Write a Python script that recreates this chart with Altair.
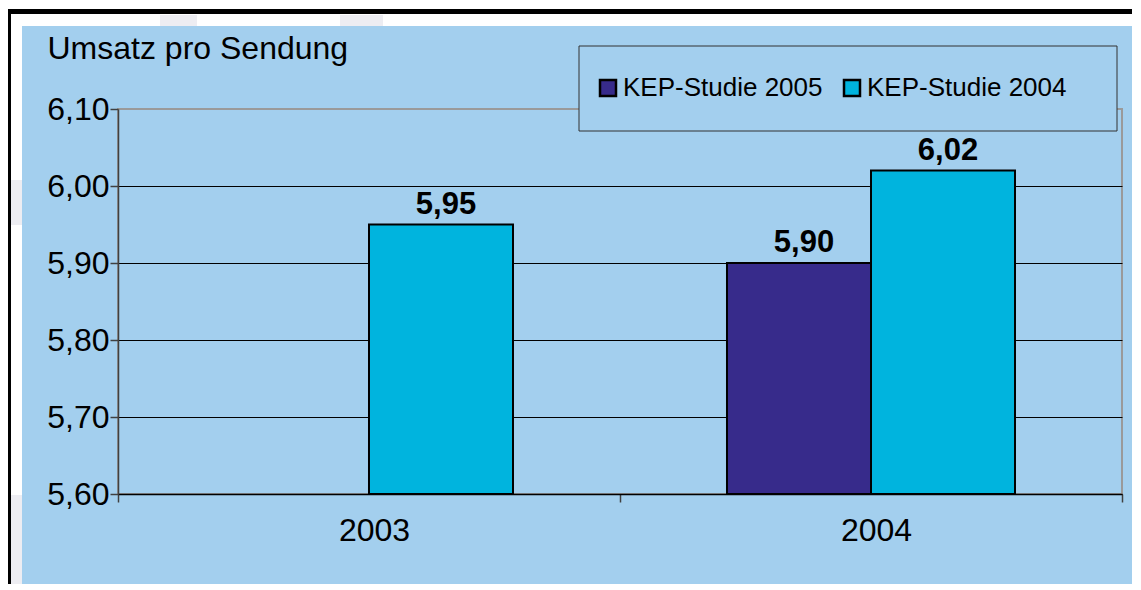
import altair as alt
import pandas as pd

# ---- data ----
years = ["2003", "2004"]
series_names = ["KEP-Studie 2005", "KEP-Studie 2004"]
kep_2005 = [None, 5.90]
kep_2004 = [5.95, 6.02]
series_colors = ["#372B8B", "#00B4DE"]
y_ticks = [5.6, 5.7, 5.8, 5.9, 6.0, 6.1]
y_title = "Umsatz pro Sendung"

rows = []
for name, vals in zip(series_names, [kep_2005, kep_2004]):
    for yr, v in zip(years, vals):
        if v is not None:
            rows.append({"Jahr": yr, "Studie": name, "Umsatz": v})
df = pd.DataFrame(rows)

BLUE = "#A3CFEE"
FONT = "Liberation Sans"
W, H = 1004, 385

x_enc = alt.X(
    "Jahr:N", sort=years,
    scale=alt.Scale(paddingInner=0, paddingOuter=0),
    axis=alt.Axis(title=None, labelAngle=0, labelFontSize=32, labelFont=FONT,
                  labelColor="black", labelPadding=13, labelOffset=5,
                  tickBand="extent", tickSize=8, tickColor="#404040", tickWidth=1.5,
                  domainColor="#000000", domainWidth=1.5, grid=False),
)
xo_enc = alt.XOffset("Studie:N", sort=series_names,
                     scale=alt.Scale(domain=series_names, paddingInner=0, paddingOuter=0.743))
y_enc = alt.Y(
    "Umsatz:Q",
    scale=alt.Scale(domain=[5.6, 6.1], zero=False, nice=False),
    axis=alt.Axis(values=y_ticks, labelExpr="replace(format(datum.value, '.2f'), '.', ',')",
                  labelFontSize=32, labelFont=FONT, labelColor="black", labelPadding=1,
                  tickSize=8, tickColor="#404040", tickWidth=1.5,
                  domainColor="#404040", domainWidth=1.5,
                  grid=True,
                  gridColor={"condition": {"test": "datum.value >= 6.09", "value": "#9A9A9A"},
                             "value": "#000000"},
                  gridWidth=1.2,
                  title=y_title, titleAngle=0, titleAlign="left", titleBaseline="alphabetic",
                  titleX=-71, titleY=-51, titleFontSize=32, titleFont=FONT,
                  titleFontWeight="normal", titleColor="black"),
)

base = alt.Chart(df)

bars = base.mark_bar(stroke="black", strokeWidth=2).encode(
    x=x_enc, xOffset=xo_enc, y=y_enc, y2=alt.datum(5.6),
    color=alt.Color("Studie:N", sort=series_names,
                    scale=alt.Scale(domain=series_names, range=series_colors),
                    legend=alt.Legend(title=None, orient="none", legendX=477, legendY=-34,
                                      direction="horizontal", symbolType="square",
                                      symbolSize=256, symbolStrokeWidth=2.5,
                                      symbolStrokeColor="black", labelFontSize=26,
                                      labelFont=FONT, labelColor="black", labelOffset=2,
                                      labelLimit=0, columnPadding=16, padding=0)),
)

labels = base.transform_calculate(
    lbl="replace(format(datum.Umsatz, '.2f'), '.', ',')"
).mark_text(font=FONT, fontWeight="bold", fontSize=31, baseline="alphabetic",
            dy=-11, dx=5, color="black").encode(
    x=alt.X("Jahr:N", sort=years), xOffset=alt.XOffset("Studie:N", sort=series_names),
    y=alt.Y("Umsatz:Q"), text="lbl:N",
)

one = pd.DataFrame({"d": [0]})


def box(x, x2, y, y2, fill, stroke=None, sw=0):
    kw = dict(fill=fill)
    if stroke:
        kw.update(stroke=stroke, strokeWidth=sw)
    return alt.Chart(one).mark_rect(**kw).encode(
        x=alt.value(x), x2=alt.value(x2), y=alt.value(y), y2=alt.value(y2))


decor = [
    box(-110, 1014, -101, -83, "white"),
    box(-110, -96, -101, 475, "white"),
    box(42, 79, -94, -83, "#EDEDF2"),
    box(222, 265, -94, -83, "#EDEDF2"),
    box(-107, -96, 71, 116, "#EDEDF2"),
    box(-107, -96, 386, 475, "#EDEDF2"),
    box(-110, 1014, -100, -95, "black"),
    box(-110, -107, -100, 475, "black"),
]
legend_box = box(461, 999, -63, 22, BLUE, "#333333", 1)

chart = alt.layer(*decor, bars, labels, legend_box).properties(
    width=W, height=H,
    autosize=alt.AutoSizeParams(type="none"),
    padding={"left": 110, "top": 101, "right": 10, "bottom": 90},
).configure(background=BLUE).configure_view(stroke="#9A9A9A", strokeWidth=2)

chart.save("out.html", embed_options={"renderer": "svg", "actions": False})
